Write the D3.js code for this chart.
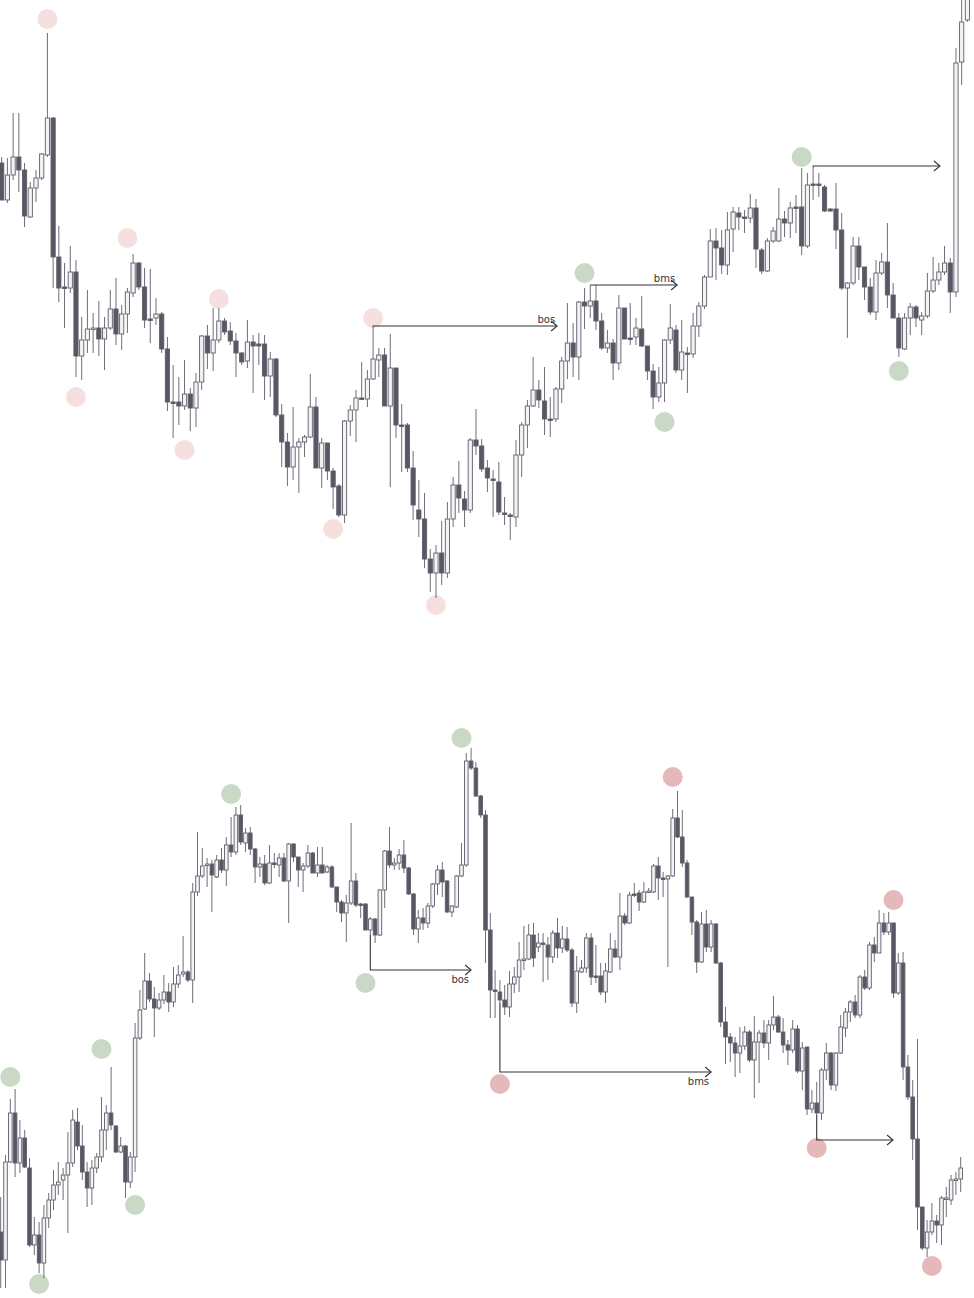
<!DOCTYPE html>
<html>
<head>
<meta charset="utf-8">
<script src="https://cdn.jsdelivr.net/npm/d3@7"></script>
<style>
html,body{margin:0;padding:0;background:#fff;}
svg{display:block;}
</style>
</head>
<body>
<svg id="chart" width="974" height="1298"></svg>
<script>
// ---- DATA: each candle = [open, high, low, close] (price units) ----
const topCandles = [
[537,543,500,500],[500,542,497,525],[525,587,520,543],[543,587,508,530],[530,537,473,484],
[483,518,482,512],[512,530,498,522],[522,547,520,546],[545,667,543,582],[582,583,412,443],
[443,474,398,412],[413,437,372,412],[412,454,407,428],[428,440,323,344],[344,383,320,360],
[360,410,347,371],[371,387,347,372],[372,399,344,361],[361,383,330,372],[372,410,370,391],
[391,422,355,366],[366,395,350,386],[386,412,367,408],[407,446,403,437],[437,438,410,413],
[413,432,372,380],[381,431,357,380],[382,402,375,386],[386,388,347,351],[351,363,289,298],
[298,335,262,297],[298,323,275,294],[294,340,290,306],[306,312,269,292],[292,327,273,318],
[318,365,310,364],[364,375,331,347],[347,392,329,360],[360,392,357,379],[379,382,365,368],
[369,378,355,359],[359,367,323,347],[347,348,335,338],[339,380,332,358],[358,365,307,354],
[356,367,335,354],[356,365,300,324],[324,348,303,341],[341,342,283,285],[285,296,233,258],
[258,267,214,233],[233,293,220,253],[253,262,207,258],[258,265,243,263],[263,326,262,293],
[293,303,232,232],[232,262,212,257],[257,257,220,229],[229,232,191,213],[214,216,183,185],
[185,280,177,279],[279,295,264,290],[290,310,258,302],[302,338,300,301],[301,330,293,321],
[321,373,320,341],[340,352,323,345],[345,352,294,294],[294,366,213,332],[332,332,262,275],
[275,296,228,274],[275,277,228,232],[232,249,180,195],[190,220,163,181],[181,207,132,141],
[141,151,108,127],[127,155,102,147],[147,179,115,127],[127,198,122,181],[181,223,173,215],
[215,239,187,202],[201,209,173,190],[190,262,187,260],[260,291,245,254],[254,261,228,231],
[232,240,208,222],[221,230,183,220],[218,238,185,188],[187,203,175,186],[185,187,160,184],
[183,260,173,245],[245,278,223,275],[275,300,252,294],[294,343,293,310],[310,320,292,300],
[299,333,265,281],[281,303,263,280],[281,313,278,311],[311,343,297,339],[339,397,321,357],
[357,377,323,343],[343,399,320,398],[398,412,371,394],[394,415,382,399],[399,415,370,379],
[379,387,350,352],[352,370,347,357],[357,361,320,337],[337,405,330,392],[392,392,361,361],
[362,397,355,361],[363,382,355,372],[371,404,353,354],[354,354,320,329],[329,336,291,303],
[303,333,298,317],[317,361,298,360],[360,396,356,372],[370,375,327,330],[330,380,320,348],
[347,353,307,346],[346,387,342,374],[374,398,363,394],[394,425,391,423],[423,471,423,459],
[459,472,420,452],[452,470,426,435],[435,488,425,470],[471,493,448,488],[487,493,470,483],
[483,490,467,482],[482,506,477,492],[492,501,432,451],[450,452,426,429],[429,462,428,459],
[459,473,457,469],[459,512,458,481],[481,489,463,477],[477,498,462,492],[493,505,467,492],
[493,532,445,454],[454,527,452,515],[516,533,500,515],[516,527,503,515],[513,515,488,489],
[491,492,488,489],[491,517,451,470],[470,487,410,412],[412,418,362,417],[417,463,415,454],
[454,463,420,433],[433,433,400,413],[413,422,385,388],[388,440,380,427],[427,447,425,438],
[438,477,392,405],[405,417,382,382],[382,387,343,352],[351,387,350,382],[382,397,365,393],
[393,395,373,382],[380,388,365,384],[384,427,382,409],[409,443,407,420],[420,437,415,428],
[428,454,425,437],[437,442,387,408],[408,652,403,637],[638,705,615,678],[680,720,678,715]
];

const bottomCandles = [
[68,103,12,40],[40,145,12,138],[138,201,137,187],[187,211,123,137],[137,180,127,162],
[162,170,132,133],[132,142,53,55],[55,83,45,65],[65,78,27,37],[37,95,22,82],
[82,107,72,100],[100,130,90,115],[115,138,105,118],[120,132,100,125],[125,168,67,137],
[137,190,133,180],[178,192,150,154],[154,175,120,128],[128,138,93,112],[112,140,95,132],
[132,147,127,143],[143,203,138,170],[170,195,150,187],[187,233,170,175],[174,175,147,148],
[148,163,147,154],[154,155,102,118],[118,148,112,143],[143,277,128,262],[262,310,260,290],
[291,347,290,319],[319,327,298,301],[301,313,263,292],[292,307,290,300],[300,325,296,308],
[308,317,288,298],[298,333,293,316],[316,335,312,325],[326,364,323,328],[328,330,318,320],
[320,417,297,408],[408,468,404,424],[424,452,422,434],[435,442,413,436],[436,440,388,425],
[423,445,422,440],[440,452,427,430],[430,463,414,455],[455,483,443,448],[448,493,445,485],
[485,495,455,458],[457,472,448,467],[467,473,445,451],[451,452,417,433],[433,443,423,436],
[436,445,415,417],[417,455,416,437],[437,447,432,436],[435,447,423,442],[442,447,418,419],
[419,457,377,456],[456,457,438,443],[443,443,413,430],[430,437,408,434],[434,455,432,447],
[447,448,427,427],[427,453,423,435],[435,453,427,427],[428,435,427,433],[433,435,412,413],
[413,413,388,398],[398,400,378,387],[387,405,358,397],[397,477,395,419],[419,427,393,395],
[396,397,382,395],[396,397,370,370],[370,383,365,381],[381,382,357,365],[365,411,364,410],
[410,450,392,449],[449,473,432,435],[435,442,430,437],[437,451,430,445],[445,460,427,432],
[432,433,405,406],[406,407,365,371],[371,390,357,382],[382,392,370,377],[377,397,372,394],
[394,417,392,416],[416,435,405,430],[430,438,403,418],[419,420,387,388],[388,395,383,394],
[393,425,392,424],[424,457,423,435],[435,547,433,539],[539,552,530,532],[532,538,503,504],
[504,505,482,485],[485,490,337,370],[370,387,282,310],[310,330,282,309],[308,320,297,300],
[300,315,285,293],[293,329,283,316],[316,333,307,323],[323,358,308,340],[340,374,330,341],
[341,376,340,365],[365,377,333,342],[353,367,348,357],[357,367,318,356],[355,363,320,343],
[343,370,337,367],[367,382,342,352],[352,374,347,361],[361,373,348,350],[350,352,293,297],
[297,344,287,329],[328,340,327,332],[332,367,327,362],[362,367,315,323],[324,355,317,323],
[324,337,305,308],[308,337,297,329],[328,367,327,351],[351,360,342,343],[343,407,330,384],
[384,387,375,377],[377,408,376,405],[406,417,403,405],[407,410,389,398],[398,418,397,408],
[408,412,407,409],[408,436,407,434],[434,443,400,422],[422,428,403,421],[421,425,333,424],
[424,491,423,482],[482,509,462,463],[463,490,433,437],[437,440,402,403],[403,403,365,378],
[378,380,327,338],[338,388,337,376],[376,390,348,353],[353,380,348,376],[376,377,336,337],
[337,338,273,278],[278,293,236,263],[263,267,238,257],[257,263,223,247],[247,273,227,254],
[254,274,250,268],[268,270,238,240],[240,284,202,258],[258,270,217,267],[267,280,252,257],
[257,280,240,275],[275,304,270,283],[283,285,267,268],[268,282,247,255],[255,260,235,250],
[250,280,247,271],[271,275,227,229],[229,258,210,252],[253,253,185,191],[191,210,187,197],
[197,218,185,187],[187,232,180,230],[230,257,220,247],[247,248,210,215],[215,248,209,247],
[247,285,246,273],[272,292,263,288],[288,300,278,298],[298,305,282,285],[285,325,282,323],
[323,330,310,312],[312,358,310,355],[355,363,338,347],[347,390,347,377],[377,387,365,368],
[368,388,365,377],[377,377,302,307],[307,347,305,337],[337,348,220,233],[233,245,200,203],
[203,220,140,161],[161,261,70,93],[93,93,50,52],[52,80,43,68],[68,97,65,79],
[79,85,57,75],[75,104,55,102],[101,113,83,102],[100,125,95,120],[120,128,105,121],
[121,143,108,132]
];

// swing markers: [candle index, price, kind]
const topPivots = [
[8,681,"bear"],[22,462,"bear"],[13,303,"bear"],[32,250,"bear"],[38,401,"bear"],
[58,171,"bear"],[65,382,"bear"],[76,95,"bear"],
[102,427,"bull"],[116,278,"bull"],[140,543,"bull"],[157,329,"bull"]
];
const bottomPivots = [
[2,223,"bull"],[8,16,"bull"],[21,251,"bull"],[28,95,"bull"],[48,506,"bull"],
[76,317,"bull"],[96,562,"bull"],
[140,523,"bear"],[104,216,"bear"],[186,400,"bear"],[170,152,"bear"],[194,34,"bear"]
];

// structure breaks: [from candle, level price, to index, label]
const topBreaks = [
[65,374,97.2,"bos"],[103,415,118.2,"bms"],[142,534,164.2,""]
];
const bottomBreaks = [
[77,330,98,"bos"],[104,228,148,"bms"],[170,160,185.9,""]
];

// ---- DRAWING ----
const svg = d3.select("#chart");
svg.append("rect").attr("width",974).attr("height",1298).attr("fill","#fff");

const COLORS = {
  dark:"#585864", light:"#f3f3f6", stroke:"#5e5e6a", wick:"#6e6e78", line:"#333338",
  topBear:"#f6dfdf", topBull:"#c9d9c6", botBull:"#c9d9c6", botBear:"#e5b9b9"
};

const xTop = d3.scaleLinear().domain([0,169]).range([1.7,967.4]);
const yTop = d3.scaleLinear().domain([95,700]).range([605,0]);
const xBot = d3.scaleLinear().domain([0,200]).range([0.7,960.7]);
const yBot = d3.scaleLinear().domain([10,562]).range([1290,738]);

function drawPanel(candles, pivots, breaks, x, y, bodyW, pivColors, labelBelow){
  const g = svg.append("g");
  // pivots
  g.append("g").selectAll("circle").data(pivots).join("circle")
    .attr("cx", d=>x(d[0])).attr("cy", d=>y(d[1])).attr("r",10)
    .attr("fill", d=>pivColors[d[2]]);
  // candles
  const cg = g.append("g").selectAll("g").data(candles).join("g");
  cg.append("line")
    .attr("x1",(d,i)=>x(i)).attr("x2",(d,i)=>x(i))
    .attr("y1",d=>y(d[1])).attr("y2",d=>y(d[2]))
    .attr("stroke",COLORS.wick).attr("stroke-width",1);
  cg.append("rect")
    .attr("x",(d,i)=>x(i)-bodyW/2)
    .attr("y",d=>y(Math.max(d[0],d[3])))
    .attr("width",bodyW)
    .attr("height",d=>Math.max(1.5,Math.abs(y(d[0])-y(d[3]))))
    .attr("fill",d=>d[3]>=d[0]?COLORS.light:COLORS.dark)
    .attr("stroke",COLORS.stroke).attr("stroke-width",0.9);
  // structure lines
  const bg = g.append("g");
  breaks.forEach(b=>{
    const c = candles[b[0]];
    const startPrice = labelBelow ? c[2] : c[1];
    const x0 = x(b[0]), yl = y(b[1]), x1 = x(b[2]);
    const p = d3.path();
    p.moveTo(x0, y(startPrice)); p.lineTo(x0, yl); p.lineTo(x1, yl);
    bg.append("path").attr("d",p.toString()).attr("fill","none")
      .attr("stroke",COLORS.line).attr("stroke-width",1.1);
    const a = d3.path();
    a.moveTo(x1-6, yl-5); a.lineTo(x1, yl); a.lineTo(x1-6, yl+5);
    bg.append("path").attr("d",a.toString()).attr("fill","none")
      .attr("stroke",COLORS.line).attr("stroke-width",1.1);
    if(b[3]){
      bg.append("text").attr("x",x1-2).attr("y", labelBelow ? yl+13 : yl-3)
        .attr("text-anchor","end").attr("font-family","DejaVu Sans, sans-serif")
        .attr("font-size",10).attr("fill","#333").text(b[3]);
    }
  });
}

drawPanel(topCandles, topPivots, topBreaks, xTop, yTop, 4.2,
  {bear:COLORS.topBear, bull:COLORS.topBull}, false);
drawPanel(bottomCandles, bottomPivots, bottomBreaks, xBot, yBot, 3.6,
  {bear:COLORS.botBear, bull:COLORS.botBull}, true);
</script>
</body>
</html>
